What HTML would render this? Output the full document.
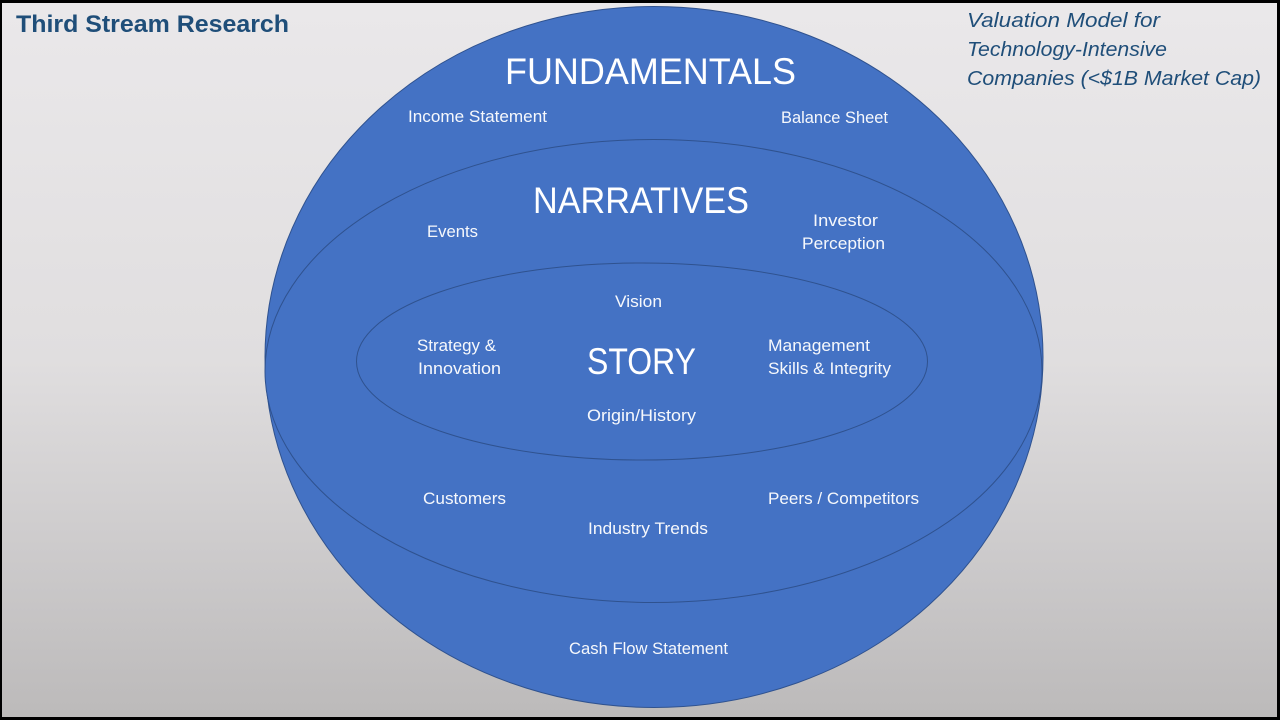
<!DOCTYPE html>
<html>
<head>
<meta charset="utf-8">
<style>
html,body{margin:0;padding:0;width:1280px;height:720px;overflow:hidden;background:#000}
svg{display:block}
text{font-family:"Liberation Sans",sans-serif}
.w{fill:#f6f8fc;font-size:16.5px}
.b{fill:#fff;font-size:37px}
.i{fill:#1f4e79;font-size:20.5px;font-style:italic}
</style>
</head>
<body>
<svg width="1280" height="720" viewBox="0 0 1280 720" xmlns="http://www.w3.org/2000/svg">
<defs>
<linearGradient id="g" x1="0" y1="0" x2="0" y2="1">
<stop offset="0" stop-color="#eae8ea"/>
<stop offset="0.5" stop-color="#e0dedf"/>
<stop offset="0.83" stop-color="#c8c6c7"/>
<stop offset="1" stop-color="#bcbaba"/>
</linearGradient>
</defs>
<rect x="0" y="0" width="1280" height="720" fill="#000"/>
<rect x="2" y="3" width="1275" height="714" fill="url(#g)"/>
<ellipse cx="654" cy="357" rx="389" ry="350.5" fill="#4472c4" stroke="#2f528f" stroke-width="1"/>
<ellipse cx="653.5" cy="371" rx="388.5" ry="231.5" fill="#4472c4" stroke="#2f528f" stroke-width="1"/>
<ellipse cx="642" cy="361.5" rx="285.5" ry="98.5" fill="#4472c4" stroke="#2f528f" stroke-width="1"/>

<text x="16" y="32" textLength="273" lengthAdjust="spacingAndGlyphs" fill="#1f4e79" font-size="24" font-weight="bold">Third Stream Research</text>
<text class="i" x="967" y="27" textLength="193" lengthAdjust="spacingAndGlyphs">Valuation Model for</text>
<text class="i" x="967" y="56" textLength="200" lengthAdjust="spacingAndGlyphs">Technology-Intensive</text>
<text class="i" x="967" y="85" textLength="294" lengthAdjust="spacingAndGlyphs">Companies (&lt;$1B Market Cap)</text>

<text class="b" x="505" y="84" textLength="291" lengthAdjust="spacingAndGlyphs">FUNDAMENTALS</text>
<text class="b" x="533" y="213" textLength="216" lengthAdjust="spacingAndGlyphs">NARRATIVES</text>
<text class="b" x="587" y="374" textLength="109" lengthAdjust="spacingAndGlyphs">STORY</text>

<text class="w" x="408" y="122" textLength="139" lengthAdjust="spacingAndGlyphs">Income Statement</text>
<text class="w" x="781" y="123" textLength="107" lengthAdjust="spacingAndGlyphs">Balance Sheet</text>
<text class="w" x="427" y="237" textLength="51" lengthAdjust="spacingAndGlyphs">Events</text>
<text class="w" x="813" y="226" textLength="65" lengthAdjust="spacingAndGlyphs">Investor</text>
<text class="w" x="802" y="249" textLength="83" lengthAdjust="spacingAndGlyphs">Perception</text>
<text class="w" x="615" y="307" textLength="47" lengthAdjust="spacingAndGlyphs">Vision</text>
<text class="w" x="417" y="351" textLength="79" lengthAdjust="spacingAndGlyphs">Strategy &amp;</text>
<text class="w" x="418" y="374" textLength="83" lengthAdjust="spacingAndGlyphs">Innovation</text>
<text class="w" x="768" y="351" textLength="102" lengthAdjust="spacingAndGlyphs">Management</text>
<text class="w" x="768" y="374" textLength="123" lengthAdjust="spacingAndGlyphs">Skills &amp; Integrity</text>
<text class="w" x="587" y="421" textLength="109" lengthAdjust="spacingAndGlyphs">Origin/History</text>
<text class="w" x="423" y="504" textLength="83" lengthAdjust="spacingAndGlyphs">Customers</text>
<text class="w" x="768" y="504" textLength="151" lengthAdjust="spacingAndGlyphs">Peers / Competitors</text>
<text class="w" x="588" y="534" textLength="120" lengthAdjust="spacingAndGlyphs">Industry Trends</text>
<text class="w" x="569" y="654" textLength="159" lengthAdjust="spacingAndGlyphs">Cash Flow Statement</text>
</svg>
</body>
</html>
